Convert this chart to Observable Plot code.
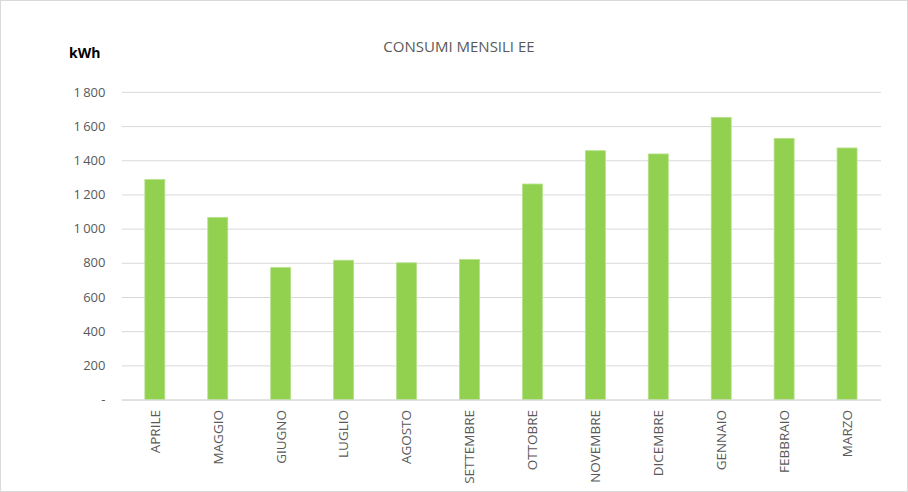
<!DOCTYPE html>
<html>
<head>
<meta charset="utf-8">
<script src="https://cdn.jsdelivr.net/npm/d3@7"></script>
<script src="https://cdn.jsdelivr.net/npm/@observablehq/plot@0.6"></script>
<style>
  html, body { margin: 0; padding: 0; background: #fff; }
  #wrap { position: relative; width: 908px; height: 492px; box-sizing: border-box; border: 1px solid #d9d9d9; overflow: hidden; font-family: "Open Sans", "Liberation Sans", sans-serif; }
  #title { position: absolute; left: 0; width: 916px; top: 35px; text-align: center; font-size: 15px; color: #595959; }
  #unit { position: absolute; left: 68px; top: 42px; font-size: 14px; font-weight: bold; color: #000; }
  #chart { position: absolute; left: -1px; top: -1px; }
</style>
</head>
<body>
<div id="wrap">
  <div id="title">CONSUMI MENSILI EE</div>
  <div id="unit">kWh</div>
  <div id="chart"></div>
</div>
<script>
const months = ["APRILE","MAGGIO","GIUGNO","LUGLIO","AGOSTO","SETTEMBRE","OTTOBRE","NOVEMBRE","DICEMBRE","GENNAIO","FEBBRAIO","MARZO"];
const consumi = [1287, 1066, 772, 815, 800, 819, 1261, 1456, 1437, 1651, 1528, 1472];
const yTicks = [0, 200, 400, 600, 800, 1000, 1200, 1400, 1600, 1800];

const data = months.map((m, i) => ({mese: m, kwh: consumi[i]}));
const fmt = d => d === 0 ? "-" : d3.format(",")(d).replace(/,/g, "\u2009");

const chart = Plot.plot({
  width: 908,
  height: 492,
  marginLeft: 122,
  marginRight: 26,
  marginTop: 92,
  marginBottom: 92,
  style: {fontFamily: "'Open Sans', 'Liberation Sans', sans-serif", fontSize: "12px", color: "#595959", background: "transparent"},
  x: {domain: months, paddingInner: 0.68, paddingOuter: 0.34, label: null},
  y: {domain: [0, 1800], label: null},
  marks: [
    Plot.gridY(yTicks, {stroke: "#d9d9d9", strokeOpacity: 1, strokeWidth: 1}),
    Plot.barY(data, {x: "mese", y: "kwh", fill: "#92d050", stroke: "#b5e08a", strokeWidth: 0.8}),
    Plot.ruleY([0], {stroke: "#d9d9d9", strokeWidth: 1}),
    Plot.axisY({ticks: yTicks, tickFormat: fmt, tickSize: 0, tickPadding: 17, fontSize: 13, fill: "#595959", label: null}),
    Plot.axisX({tickSize: 0, tickPadding: 10, tickRotate: -90, fontSize: 13.5, fill: "#595959", label: null})
  ]
});
document.getElementById("chart").appendChild(chart);
</script>
</body>
</html>
